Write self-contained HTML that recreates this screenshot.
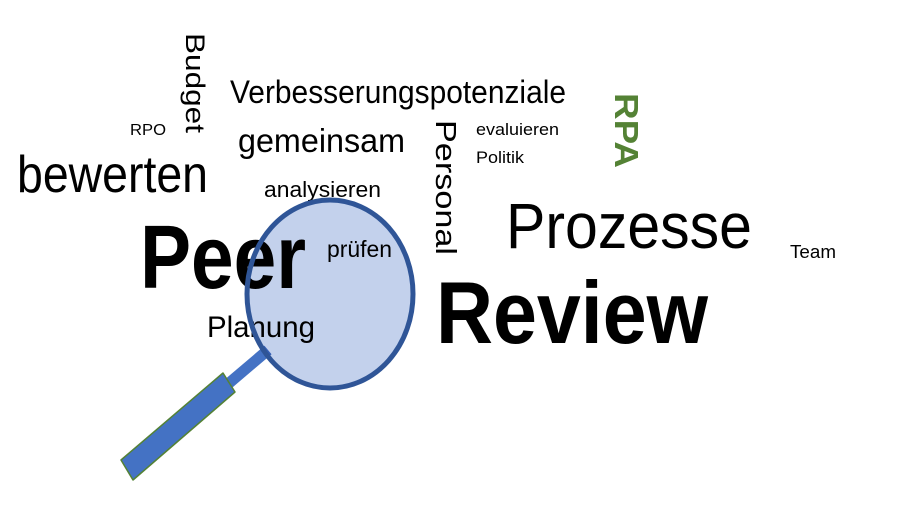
<!DOCTYPE html>
<html><head><meta charset="utf-8"><style>
html,body{margin:0;padding:0;background:#fff;width:920px;height:515px;overflow:hidden}
svg{display:block}
text{font-family:"Liberation Sans",Arial,sans-serif;fill:#000}
</style></head><body>
<svg width="920" height="515" viewBox="0 0 920 515" xmlns="http://www.w3.org/2000/svg">
<rect width="920" height="515" fill="#fff"/>
<text transform="translate(186,33) rotate(90)" font-size="27" textLength="100" lengthAdjust="spacingAndGlyphs">Budget</text>
<text x="130" y="135" font-size="16" textLength="36" lengthAdjust="spacingAndGlyphs">RPO</text>
<text x="17" y="192" font-size="52" textLength="191" lengthAdjust="spacingAndGlyphs">bewerten</text>
<text x="230" y="103" font-size="32" textLength="336" lengthAdjust="spacingAndGlyphs">Verbesserungspotenziale</text>
<text x="238" y="152" font-size="33" textLength="167" lengthAdjust="spacingAndGlyphs">gemeinsam</text>
<text x="264" y="197" font-size="22" textLength="117" lengthAdjust="spacingAndGlyphs">analysieren</text>
<text transform="translate(436,120) rotate(90)" font-size="29" textLength="135" lengthAdjust="spacingAndGlyphs">Personal</text>
<text x="476" y="135" font-size="17" textLength="83" lengthAdjust="spacingAndGlyphs">evaluieren</text>
<text x="476" y="163" font-size="17" textLength="48" lengthAdjust="spacingAndGlyphs">Politik</text>
<text transform="translate(615,93) rotate(90)" font-size="33" font-weight="bold" style="fill:#548235" textLength="75" lengthAdjust="spacingAndGlyphs">RPA</text>
<text x="506" y="248" font-size="64" textLength="246" lengthAdjust="spacingAndGlyphs">Prozesse</text>
<text x="790" y="258" font-size="18" textLength="46" lengthAdjust="spacingAndGlyphs">Team</text>
<text x="140" y="288" font-size="90" font-weight="bold" textLength="166" lengthAdjust="spacingAndGlyphs">Peer</text>
<text x="207" y="337" font-size="30" textLength="108" lengthAdjust="spacingAndGlyphs">Planung</text>
<text x="436" y="343" font-size="88" font-weight="bold" textLength="272" lengthAdjust="spacingAndGlyphs">Review</text>
<text x="327" y="257" font-size="23" textLength="65" lengthAdjust="spacingAndGlyphs">prüfen</text>
<line x1="268" y1="350" x2="228" y2="384" stroke="#4472c4" stroke-width="11"/>
<polygon points="121,460 133,480 235,392 223,373" fill="#4472c4" stroke="#548235" stroke-width="1.5" stroke-linejoin="round"/>
<ellipse cx="330" cy="294" rx="83" ry="94" fill="#c3d1ec" style="mix-blend-mode:multiply"/>
<ellipse cx="330" cy="294" rx="83" ry="94" fill="none" stroke="#2f5597" stroke-width="5"/>
</svg>
</body></html>
